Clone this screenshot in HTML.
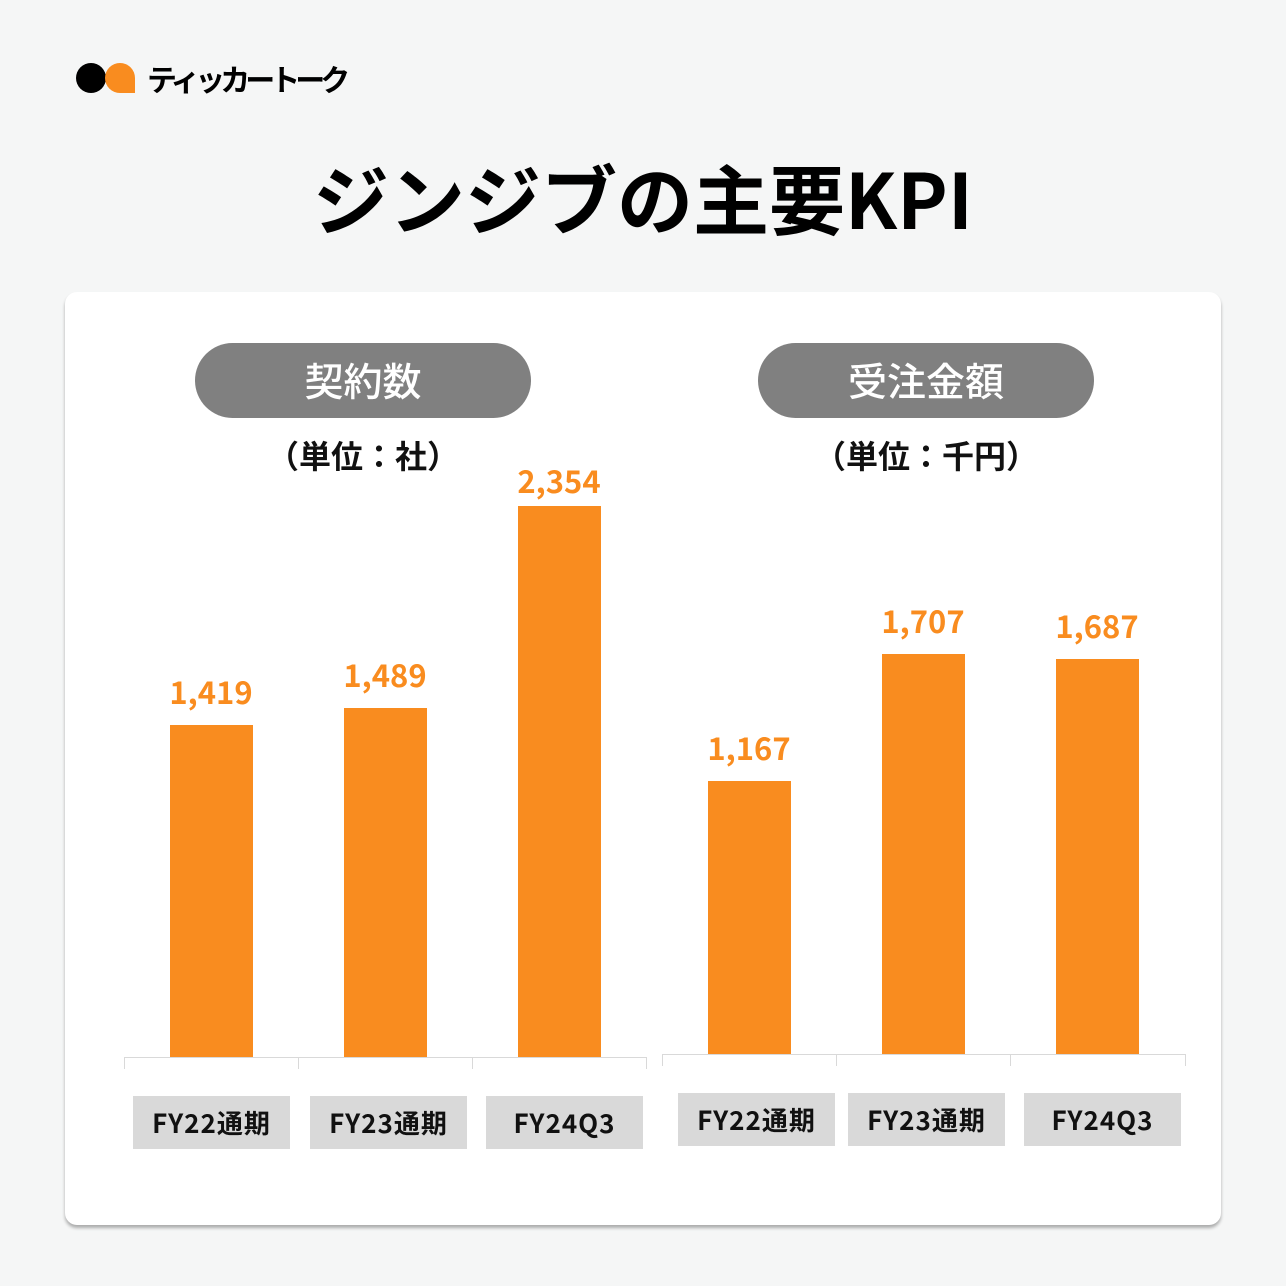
<!DOCTYPE html>
<html><head><meta charset="utf-8"><style>
*{margin:0;padding:0;box-sizing:border-box}
body{width:1286px;height:1286px;background:#f5f6f6;position:relative;overflow:hidden;font-family:"Liberation Sans","Noto Sans CJK JP",sans-serif}
.a{position:absolute}
.f{font-family:"Noto Sans CJK JP","Liberation Sans",sans-serif;font-weight:700}
.card{left:65px;top:292px;width:1156px;height:933px;background:#fff;border-radius:12px;box-shadow:0 3px 3px rgba(0,0,0,.3)}
.pill{height:75px;width:336px;border-radius:38px;background:#808080;color:#fff;font-size:39px;font-weight:500;text-align:center;line-height:75px}
.sub{font-size:32px;width:400px;text-align:center;color:#111}
.bar{background:#f98c1f;width:83px}
.val{color:#f98c1f;font-size:31px;width:160px;text-align:center;line-height:1}
.lab{background:#d9d9d9;width:157px;height:53px;font-size:26px;line-height:53px;text-align:center;color:#111;letter-spacing:1px}
.ax{height:1px;background:#d9d9d9}
.tk{width:1px;height:12px;background:#d9d9d9}
</style></head><body>
<div class="a" style="left:76px;top:63px;width:30px;height:30px;border-radius:50%;background:#000"></div>
<div class="a" style="left:105px;top:63px;width:30px;height:30px;border-radius:50% 50% 0 50%;background:#f98c1f;border:0"></div>
<div class="a f" style="left:147px;top:58px;font-size:30px;line-height:40px;color:#000;letter-spacing:-5px">ティッカートーク</div>
<div class="a f" style="left:0;width:1286px;top:148px;text-align:center;font-size:76px;line-height:96px;color:#000">ジンジブの主要KPI</div>
<div class="a card"></div>

<div class="a pill f" style="left:195px;top:343px">契約数</div>
<div class="a pill f" style="left:758px;top:343px">受注金額</div>
<div class="a sub f" style="left:163px;top:432px;line-height:46px">（単位：社）</div>
<div class="a sub f" style="left:726px;top:432px;line-height:46px">（単位：千円）</div>

<div class="a ax" style="left:124px;top:1057px;width:523px"></div>
<div class="a tk" style="left:124px;top:1057px"></div><div class="a tk" style="left:298px;top:1057px"></div><div class="a tk" style="left:472px;top:1057px"></div><div class="a tk" style="left:646px;top:1057px"></div>
<div class="a bar" style="left:170px;top:725px;height:332px"></div>
<div class="a bar" style="left:344px;top:708px;height:349px"></div>
<div class="a bar" style="left:518px;top:506px;height:551px"></div>
<div class="a val f" style="left:131px;top:675px">1,419</div>
<div class="a val f" style="left:305px;top:658px">1,489</div>
<div class="a val f" style="left:479px;top:464px">2,354</div>
<div class="a lab f" style="left:133px;top:1096px">FY22通期</div>
<div class="a lab f" style="left:310px;top:1096px">FY23通期</div>
<div class="a lab f" style="left:486px;top:1096px">FY24Q3</div>

<div class="a ax" style="left:662px;top:1054px;width:524px"></div>
<div class="a tk" style="left:662px;top:1054px"></div><div class="a tk" style="left:836px;top:1054px"></div><div class="a tk" style="left:1010px;top:1054px"></div><div class="a tk" style="left:1185px;top:1054px"></div>
<div class="a bar" style="left:708px;top:781px;height:273px"></div>
<div class="a bar" style="left:882px;top:654px;height:400px"></div>
<div class="a bar" style="left:1056px;top:659px;height:395px"></div>
<div class="a val f" style="left:669px;top:731px">1,167</div>
<div class="a val f" style="left:843px;top:604px">1,707</div>
<div class="a val f" style="left:1017px;top:609px">1,687</div>
<div class="a lab f" style="left:678px;top:1093px">FY22通期</div>
<div class="a lab f" style="left:848px;top:1093px">FY23通期</div>
<div class="a lab f" style="left:1024px;top:1093px">FY24Q3</div>
</body></html>
